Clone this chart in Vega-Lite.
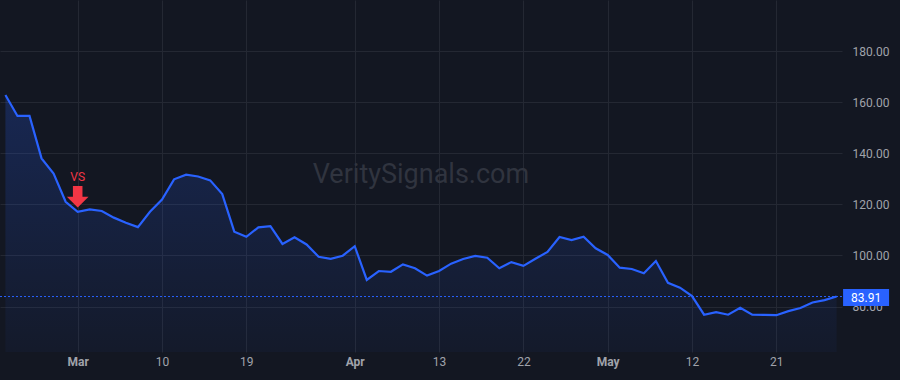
{
  "$schema": "https://vega.github.io/schema/vega-lite/v6.json",
  "width": 842,
  "height": 352,
  "autosize": {"type": "none"},
  "padding": {"left": 0, "top": 0, "right": 58, "bottom": 28},
  "background": "#131722",
  "config": {
    "view": {"stroke": null},
    "font": "Roboto",
    "axis": {"domain": false, "ticks": false, "tickSize": 0, "gridColor": "#242833", "gridWidth": 1, "labelColor": "#a0a3ab", "labelFontSize": 12, "labelFont": "Roboto", "title": null}
  },
  "data": {"values": [
    {"date": "2026-02-20", "price": 162.8},
    {"date": "2026-02-23", "price": 154.6},
    {"date": "2026-02-24", "price": 154.6},
    {"date": "2026-02-25", "price": 138.0},
    {"date": "2026-02-26", "price": 132.1},
    {"date": "2026-02-27", "price": 121.0},
    {"date": "2026-03-02", "price": 117.1},
    {"date": "2026-03-03", "price": 118.0},
    {"date": "2026-03-04", "price": 117.4},
    {"date": "2026-03-05", "price": 114.8},
    {"date": "2026-03-06", "price": 112.8},
    {"date": "2026-03-07", "price": 111.1},
    {"date": "2026-03-09", "price": 117.1},
    {"date": "2026-03-10", "price": 121.9},
    {"date": "2026-03-11", "price": 129.8},
    {"date": "2026-03-12", "price": 131.6},
    {"date": "2026-03-13", "price": 130.9},
    {"date": "2026-03-16", "price": 129.4},
    {"date": "2026-03-17", "price": 124.0},
    {"date": "2026-03-18", "price": 109.3},
    {"date": "2026-03-19", "price": 107.3},
    {"date": "2026-03-20", "price": 111.0},
    {"date": "2026-03-23", "price": 111.5},
    {"date": "2026-03-24", "price": 104.5},
    {"date": "2026-03-25", "price": 107.1},
    {"date": "2026-03-26", "price": 104.3},
    {"date": "2026-03-27", "price": 99.5},
    {"date": "2026-03-30", "price": 98.7},
    {"date": "2026-03-31", "price": 99.9},
    {"date": "2026-04-01", "price": 103.6},
    {"date": "2026-04-02", "price": 90.4},
    {"date": "2026-04-06", "price": 93.9},
    {"date": "2026-04-07", "price": 93.6},
    {"date": "2026-04-08", "price": 96.5},
    {"date": "2026-04-09", "price": 95.0},
    {"date": "2026-04-10", "price": 92.1},
    {"date": "2026-04-13", "price": 93.9},
    {"date": "2026-04-14", "price": 96.8},
    {"date": "2026-04-15", "price": 98.6},
    {"date": "2026-04-16", "price": 99.8},
    {"date": "2026-04-17", "price": 99.1},
    {"date": "2026-04-20", "price": 95.0},
    {"date": "2026-04-21", "price": 97.4},
    {"date": "2026-04-22", "price": 95.9},
    {"date": "2026-04-23", "price": 98.7},
    {"date": "2026-04-24", "price": 101.4},
    {"date": "2026-04-27", "price": 107.2},
    {"date": "2026-04-28", "price": 106.0},
    {"date": "2026-04-29", "price": 107.3},
    {"date": "2026-04-30", "price": 102.8},
    {"date": "2026-05-01", "price": 100.2},
    {"date": "2026-05-04", "price": 95.2},
    {"date": "2026-05-05", "price": 94.7},
    {"date": "2026-05-06", "price": 93.0},
    {"date": "2026-05-07", "price": 97.8},
    {"date": "2026-05-08", "price": 89.3},
    {"date": "2026-05-11", "price": 87.4},
    {"date": "2026-05-12", "price": 84.1},
    {"date": "2026-05-13", "price": 76.8},
    {"date": "2026-05-14", "price": 77.8},
    {"date": "2026-05-15", "price": 76.8},
    {"date": "2026-05-18", "price": 79.5},
    {"date": "2026-05-19", "price": 76.8},
    {"date": "2026-05-20", "price": 76.7},
    {"date": "2026-05-21", "price": 76.6},
    {"date": "2026-05-22", "price": 78.2},
    {"date": "2026-05-26", "price": 79.4},
    {"date": "2026-05-27", "price": 81.6},
    {"date": "2026-05-28", "price": 82.5},
    {"date": "2026-05-29", "price": 83.91}
  ]},
  "layer": [
    {
      "data": {"values": [{"label": "VeritySignals.com"}]},
      "mark": {"type": "text", "align": "center", "baseline": "alphabetic", "fontSize": 27, "font": "Roboto", "color": "#30343f", "dx": 6},
      "encoding": {
        "x": {"datum": "2026-04-09", "type": "ordinal"},
        "y": {"datum": 128.3, "type": "quantitative"},
        "text": {"field": "label"}
      }
    },
    {
      "mark": {"type": "area", "color": {"gradient": "linear", "x1": 0, "y1": 0, "x2": 0, "y2": 1, "stops": [{"offset": 0, "color": "rgba(41,98,255,0.22)"}, {"offset": 1, "color": "rgba(41,98,255,0.04)"}]}},
      "encoding": {
        "x": {
          "field": "date", "type": "ordinal",
          "scale": {"type": "point", "padding": 0.45},
          "axis": {
            "values": ["2026-03-02", "2026-03-10", "2026-03-19", "2026-04-01", "2026-04-13", "2026-04-22", "2026-05-01", "2026-05-12", "2026-05-21"],
            "labelExpr": "datum.value == '2026-03-02' ? 'Mar' : datum.value == '2026-04-01' ? 'Apr' : datum.value == '2026-05-01' ? 'May' : '' + toNumber(slice(datum.value, 8))",
            "labelFontWeight": {"condition": {"test": "datum.value == '2026-03-02' || datum.value == '2026-04-01' || datum.value == '2026-05-01'", "value": "bold"}, "value": "normal"},
            "labelAngle": 0,
            "labelAlign": "center",
            "labelPadding": 9,
            "grid": true
          }
        },
        "y": {
          "field": "price", "type": "quantitative",
          "scale": {"domain": [62.2, 200], "zero": false, "nice": false},
          "axis": {"orient": "right", "values": [80, 100, 120, 140, 160, 180], "format": ".2f", "labelPadding": 10, "grid": true}
        },
        "y2": {"datum": 62.2}
      }
    },
    {
      "mark": {"type": "line", "color": "#2962ff", "strokeWidth": 2.2},
      "encoding": {
        "x": {"field": "date", "type": "ordinal"},
        "y": {"field": "price", "type": "quantitative"}
      }
    },
    {
      "data": {"values": [{"price": 83.91}]},
      "mark": {"type": "rule", "color": "#2962ff", "strokeWidth": 1, "strokeDash": [2, 2]},
      "encoding": {
        "y": {"field": "price", "type": "quantitative"}
      }
    },
    {
      "transform": [{"filter": "datum.date == '2026-03-02'"}],
      "mark": {"type": "point", "shape": "M-0.44,-1L0.44,-1L0.44,0L1,0L0,1L-1,0L-0.44,0Z", "size": 471, "filled": true, "opacity": 1, "color": "#f23645", "strokeWidth": 0, "yOffset": -15},
      "encoding": {
        "x": {"field": "date", "type": "ordinal"},
        "y": {"field": "price", "type": "quantitative"}
      }
    },
    {
      "transform": [{"filter": "datum.date == '2026-03-02'"}],
      "mark": {"type": "text", "text": "VS", "color": "#f23645", "fontSize": 12, "font": "Roboto", "align": "center", "baseline": "alphabetic", "dy": -31},
      "encoding": {
        "x": {"field": "date", "type": "ordinal"},
        "y": {"field": "price", "type": "quantitative"}
      }
    },
    {
      "data": {"values": [{"date": "2026-05-29", "price": 83.91}]},
      "mark": {"type": "point", "shape": "M-1,-0.37L1,-0.37L1,0.37L-1,0.37Z", "size": 2116, "filled": true, "opacity": 1, "color": "#2962ff", "strokeWidth": 0, "xOffset": 29.5, "yOffset": 1},
      "encoding": {
        "x": {"field": "date", "type": "ordinal"},
        "y": {"field": "price", "type": "quantitative"}
      }
    },
    {
      "data": {"values": [{"date": "2026-05-29", "price": 83.91}]},
      "mark": {"type": "text", "color": "#ffffff", "fontSize": 12, "font": "Roboto", "align": "center", "baseline": "middle", "dx": 29.5, "dy": 1},
      "encoding": {
        "x": {"field": "date", "type": "ordinal"},
        "y": {"field": "price", "type": "quantitative"},
        "text": {"field": "price", "type": "quantitative", "format": ".2f"}
      }
    }
  ]
}
